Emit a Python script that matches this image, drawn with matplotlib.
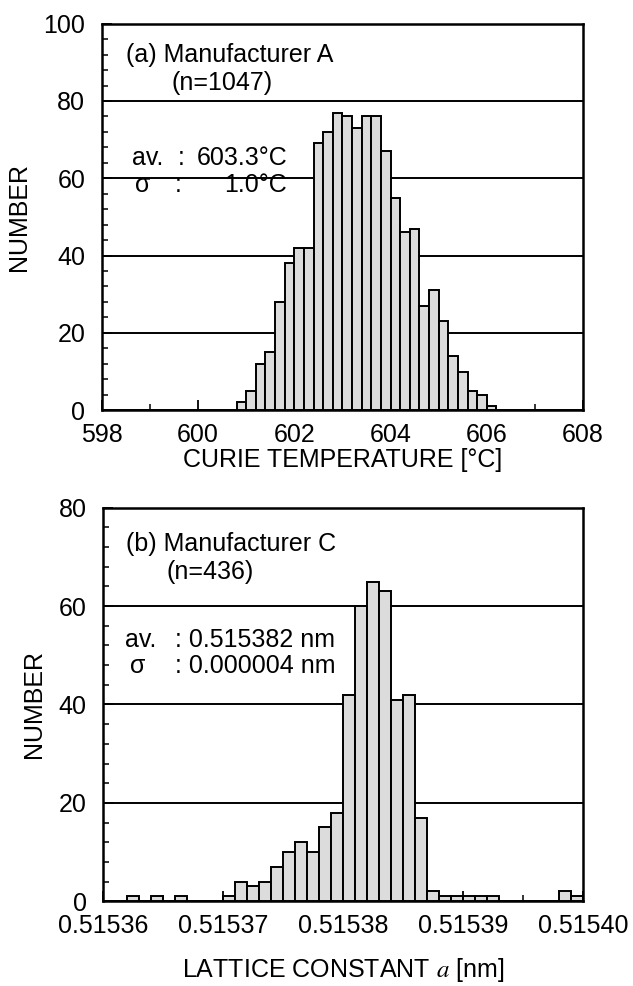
import numpy as np
import matplotlib.pyplot as plt
from matplotlib.ticker import MultipleLocator, FormatStrFormatter

plt.rcParams['font.family'] = ['Liberation Sans', 'DejaVu Sans']
plt.rcParams['mathtext.fontset'] = 'stix'
plt.rcParams['font.size'] = 18

# (a) Curie temperature, bins of 0.2 C (left edges)
curie_edges = [600.8, 601.0, 601.2, 601.4, 601.6, 601.8, 602.0, 602.2, 602.4,
               602.6, 602.8, 603.0, 603.2, 603.4, 603.6, 603.8, 604.0, 604.2,
               604.4, 604.6, 604.8, 605.0, 605.2, 605.4, 605.6, 605.8, 606.0]
curie_counts = [2, 5, 12, 15, 28, 38, 42, 42, 69,
                72, 77, 76, 73, 76, 76, 67, 55, 46,
                47, 27, 31, 23, 14, 10, 5, 4, 1]

# (b) lattice constant, bins of 0.000001 nm (left edges)
lat_edges = [0.515362, 0.515364, 0.515366,
             0.515370, 0.515371, 0.515372, 0.515373, 0.515374, 0.515375,
             0.515376, 0.515377, 0.515378, 0.515379, 0.515380, 0.515381,
             0.515382, 0.515383, 0.515384, 0.515385, 0.515386, 0.515387,
             0.515388, 0.515389, 0.515390, 0.515391, 0.515392,
             0.515398, 0.515399]
lat_counts = [1, 1, 1,
              1, 4, 3, 4, 7, 10,
              12, 10, 15, 18, 42, 60,
              65, 63, 41, 42, 17, 2,
              1, 1, 1, 1, 1,
              2, 1]

bar_kw = dict(align='edge', facecolor='#dcdcdc', edgecolor='black',
              linewidth=1.4, zorder=3)


def style(ax):
    ax.set_axisbelow(True)
    ax.yaxis.grid(True, which='major', color='black', linewidth=1.4, zorder=0)
    ax.yaxis.set_major_locator(MultipleLocator(20))
    ax.yaxis.set_minor_locator(MultipleLocator(4))
    ax.tick_params(which='both', direction='in', top=False, right=False)
    ax.tick_params(which='major', length=7, width=1.3)
    ax.tick_params(which='minor', length=4, width=1.1)
    ax.tick_params(axis='y', pad=12)
    ax.tick_params(axis='x', pad=9)
    for s in ax.spines.values():
        s.set_linewidth(1.8)


fig = plt.figure(figsize=(6.33, 9.86), dpi=100)
ax1 = fig.add_axes([0.161, 0.584, 0.760, 0.392])
ax2 = fig.add_axes([0.163, 0.086, 0.758, 0.399])

ax1.bar(curie_edges, curie_counts, width=0.2, **bar_kw)
ax1.set_xlim(598, 608)
ax1.set_ylim(0, 100)
ax1.xaxis.set_major_locator(MultipleLocator(2))
ax1.xaxis.set_minor_locator(MultipleLocator(1))
style(ax1)
ax1.set_xlabel('CURIE TEMPERATURE [°C]', labelpad=1)
ax1.set_ylabel('NUMBER', labelpad=9)

t1 = dict(transform=ax1.transAxes, va='center')
ax1.text(0.05, 0.92, '(a) Manufacturer A', **t1)
ax1.text(0.25, 0.847, '(n=1047)', ha='center', **t1)
ax1.text(0.062, 0.653, 'av.', **t1)
ax1.text(0.158, 0.653, ':', **t1)
ax1.text(0.385, 0.653, '603.3°C', ha='right', **t1)
ax1.text(0.068, 0.583, 'σ', **t1)
ax1.text(0.152, 0.583, ':', **t1)
ax1.text(0.385, 0.583, '1.0°C', ha='right', **t1)

ax2.bar(lat_edges, lat_counts, width=0.000001, **bar_kw)
ax2.set_xlim(0.51536, 0.51540)
ax2.set_ylim(0, 80)
ax2.xaxis.set_major_locator(MultipleLocator(0.00001))
ax2.xaxis.set_minor_locator(MultipleLocator(0.000005))
ax2.xaxis.set_major_formatter(FormatStrFormatter('%.5f'))
style(ax2)
ax2.set_xlabel(r'LATTICE CONSTANT $\mathit{a}$ [nm]', labelpad=13)
ax2.set_ylabel('NUMBER', labelpad=9)

t2 = dict(transform=ax2.transAxes, va='center')
ax2.text(0.048, 0.908, '(b) Manufacturer C', **t2)
ax2.text(0.223, 0.837, '(n=436)', ha='center', **t2)
ax2.text(0.046, 0.664, 'av.', **t2)
ax2.text(0.150, 0.664, ': 0.515382 nm', **t2)
ax2.text(0.056, 0.598, 'σ', **t2)
ax2.text(0.150, 0.598, ': 0.000004 nm', **t2)

fig.savefig('out.png', dpi=100)
